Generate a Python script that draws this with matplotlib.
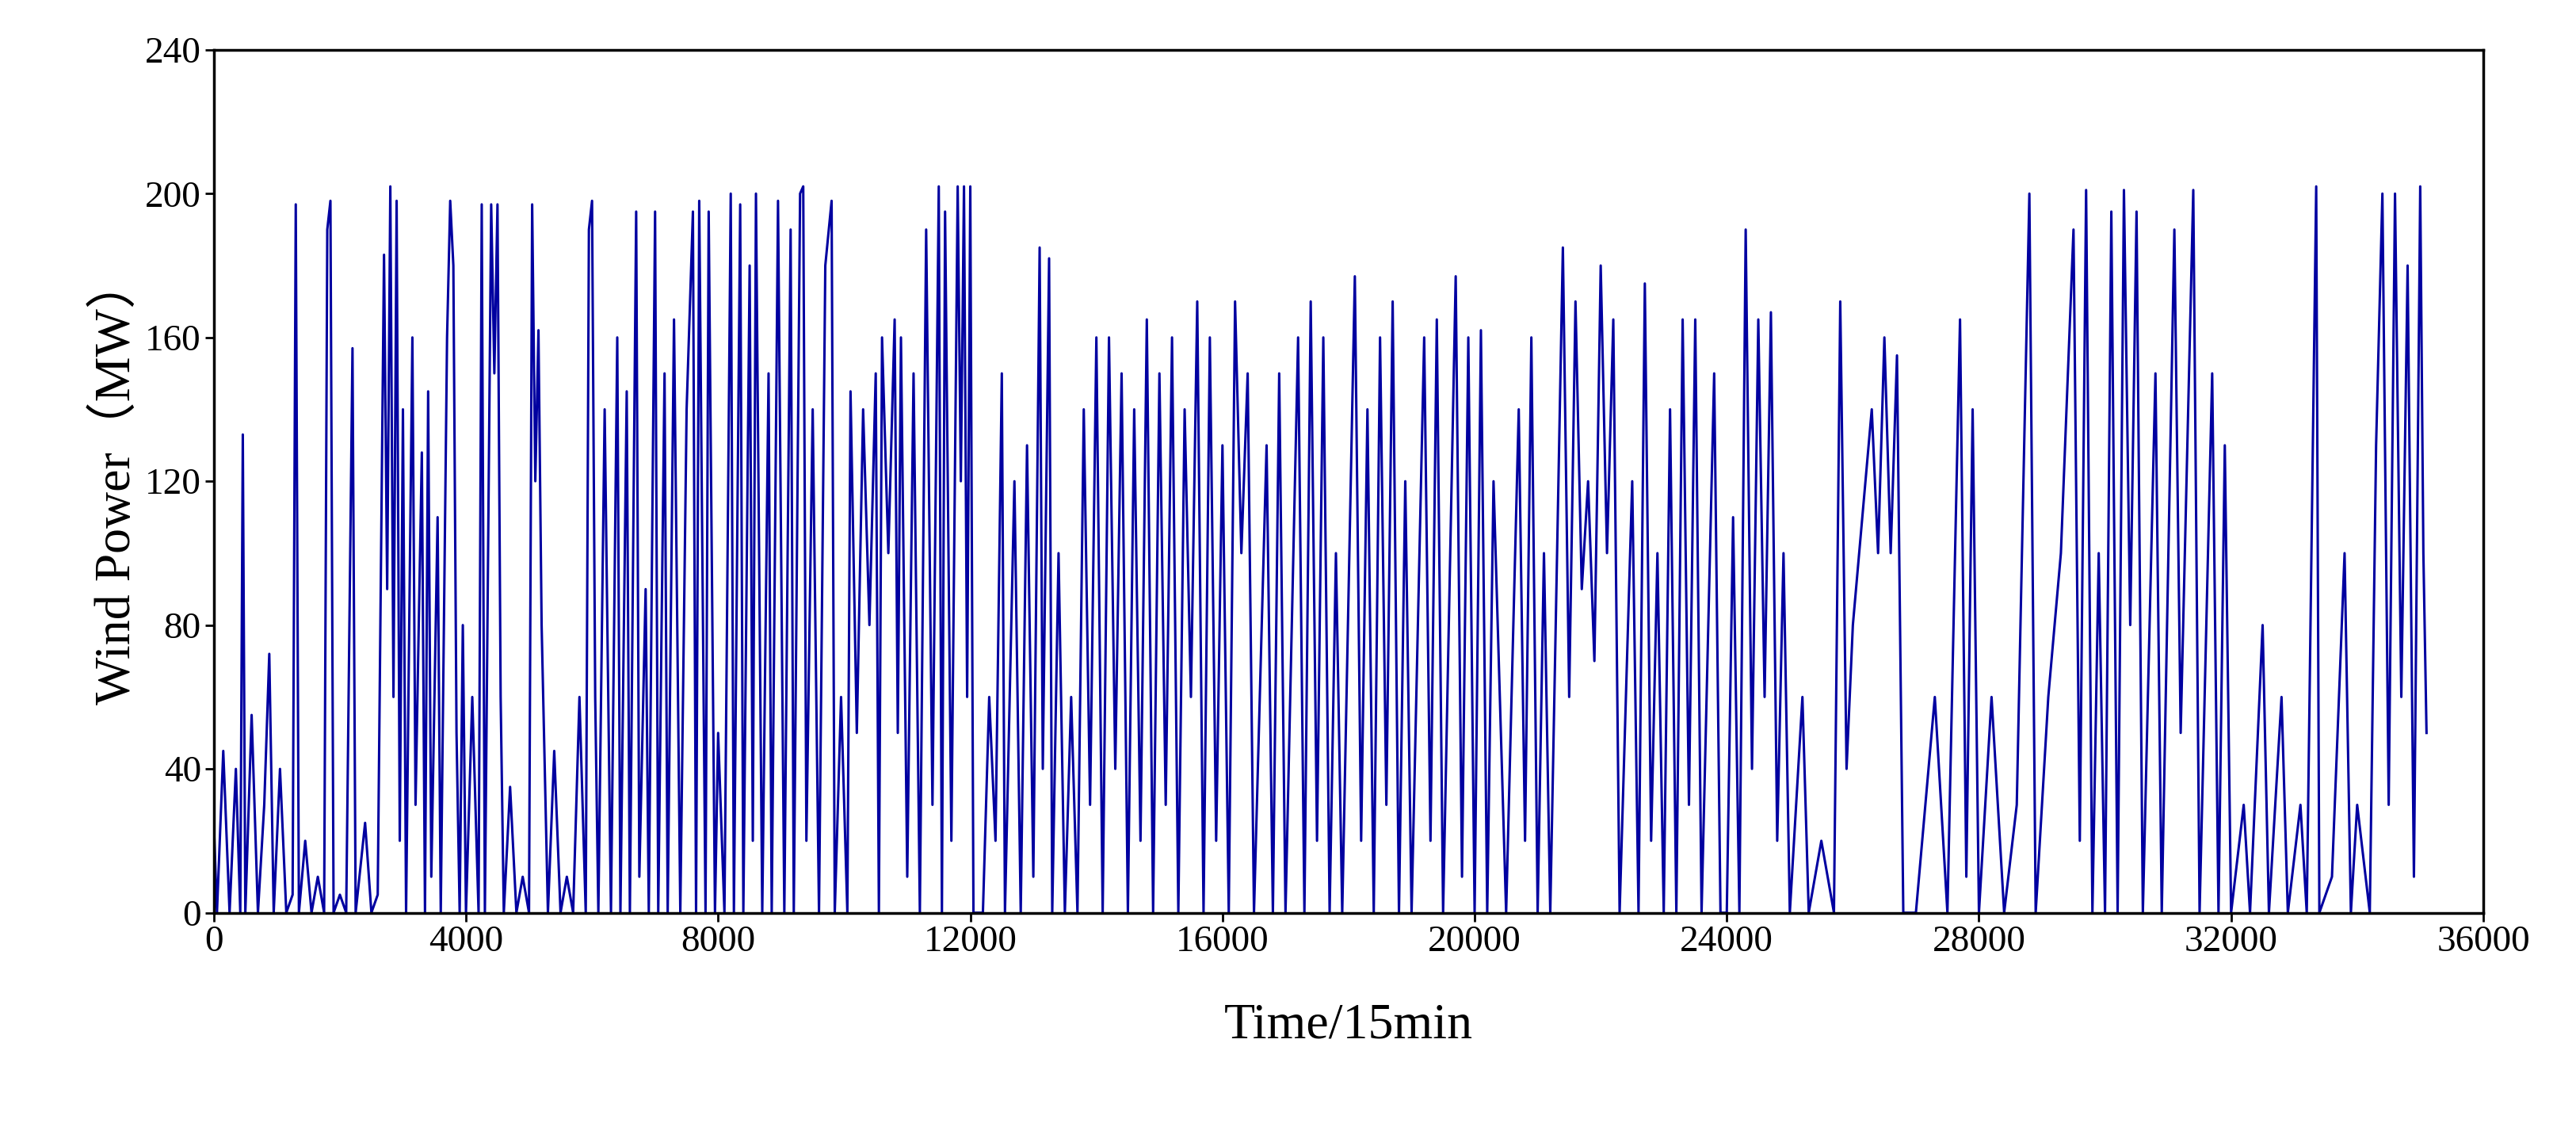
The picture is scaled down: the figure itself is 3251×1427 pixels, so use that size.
import matplotlib
matplotlib.use("Agg")
import matplotlib.pyplot as plt

time_pts = [0,50,150,250,350,420,460,500,600,700,800,880,950,1050,1150,1250,1300,1350,1450,1550,1650,1750,1800,1850,1900,2000,2100,2200,2250,2400,2500,2600,
2700,2750,2800,2850,2900,2950,3000,3050,3150,3200,3300,3350,3400,3450,3550,3600,3700,3750,3800,3850,3900,3950,4000,4100,4200,4250,4300,4400,4450,4500,4550,4600,4700,4800,4900,5000,5050,5100,5150,5200,5300,5400,5500,5600,5700,5800,5900,5950,6000,6050,6100,6200,6300,6400,6450,6550,6600,6700,6750,6850,6900,7000,7050,7150,7200,7300,7400,7500,7600,7650,7700,7800,7850,7950,8000,8100,8200,8250,8350,8400,8500,8550,8600,8700,8800,8850,8950,9050,9150,9200,9300,9350,9400,9500,9600,9700,9800,9850,9950,10050,10100,10200,10300,10400,10500,10550,10600,10700,10800,10850,10900,11000,11100,11200,11300,11400,11500,11550,11600,11700,11800,11850,11900,11950,12000,12050,12200,12300,12400,12500,12550,12700,12800,12900,13000,13100,13150,13250,13300,13400,13500,13600,13700,13800,13900,14000,14100,14200,14300,14400,14500,14600,14700,14800,14900,15000,15100,15200,15300,15400,15500,15600,15700,15800,15900,16000,16100,16200,16300,16400,16500,16700,16800,16900,17000,17200,17300,17400,17500,17600,17700,17800,17900,18100,18200,18300,18400,18500,18600,18700,18800,18900,19000,19200,19300,19400,19500,19700,19800,19900,20000,20100,20200,20300,20500,20700,20800,20900,21000,21100,21200,21400,21500,21600,21700,21800,21900,22000,22100,22200,22300,22500,22600,22700,22800,22900,23000,23100,23200,23300,23400,23500,23600,23800,23900,24000,24100,24200,24300,24400,24500,24600,24700,24800,24900,25000,25200,25300,25500,25700,25800,25900,26000,26100,26300,26400,26500,26600,26700,26800,27000,27300,27500,27700,27800,27900,28000,28200,28400,28600,28800,28900,29100,29300,29500,29600,29700,29800,29900,30000,30100,30200,30300,30400,30500,30600,30800,30900,31100,31200,31400,31500,31700,31800,31900,32000,32200,32300,32500,32600,32800,32900,33100,33200,33350,33400,33600,33800,33900,34000,34200,34300,34400,34500,34600,34700,34800,34900,35000,35050,35100]
power = [25,0,45,0,40,0,133,0,55,0,30,72,0,40,0,5,197,0,20,0,10,0,190,198,0,5,0,157,0,25,0,5,
183,90,202,60,198,20,140,0,160,30,128,0,145,10,110,0,160,198,180,50,0,80,0,60,0,197,0,197,150,197,60,0,35,0,10,0,197,120,162,80,0,45,0,10,0,60,0,190,198,60,0,140,0,160,0,145,0,195,10,90,0,195,0,150,0,165,0,140,195,0,198,0,195,0,50,0,200,0,197,0,180,20,200,0,150,0,198,0,190,0,200,202,20,140,0,180,198,0,60,0,145,50,140,80,150,0,160,100,165,50,160,10,150,0,190,30,202,0,195,20,202,120,202,60,202,0,0,60,20,150,0,120,0,130,10,185,40,182,0,100,0,60,0,140,30,160,0,160,40,150,0,140,20,165,0,150,30,160,0,140,60,170,0,160,20,130,0,170,100,150,0,130,0,150,0,160,0,170,20,160,0,100,0,177,20,140,0,160,30,170,0,120,0,160,20,165,0,177,10,160,0,162,0,120,0,140,20,160,0,100,0,185,60,170,90,120,70,180,100,165,0,120,0,175,20,100,0,140,0,165,30,165,0,150,0,0,110,0,190,40,165,60,167,20,100,0,60,0,20,0,170,40,80,100,140,100,160,100,155,0,0,60,0,165,10,140,0,60,0,30,200,0,60,100,190,20,201,0,100,0,195,0,201,80,195,0,150,0,190,50,201,0,150,0,130,0,30,0,80,0,60,0,30,0,202,0,10,100,0,30,0,130,200,30,200,60,180,10,202,100,50]

x_ticks = list(range(0, 36001, 4000))
y_ticks = list(range(0, 241, 40))

plt.rcParams['font.family'] = ['Liberation Serif', 'DejaVu Serif']
fig = plt.figure(figsize=(32.51, 14.27), dpi=100)
ax = fig.add_axes([0.083, 0.193, 0.881, 0.763])
ax.plot(time_pts, power, color='#0000A0', lw=2.2)
ax.set_xlim(0, 36000)
ax.set_ylim(0, 240)
ax.set_xticks(x_ticks)
ax.set_yticks(y_ticks)
ax.tick_params(labelsize=34, width=2, length=8)
for s in ax.spines.values():
    s.set_linewidth(2.5)
ax.set_xlabel('Time/15min', fontsize=46, labelpad=40)
ax.set_ylabel('Wind Power（MW）', fontsize=46, family=['Liberation Serif', 'Noto Sans CJK SC'])
fig.savefig('out.png')
